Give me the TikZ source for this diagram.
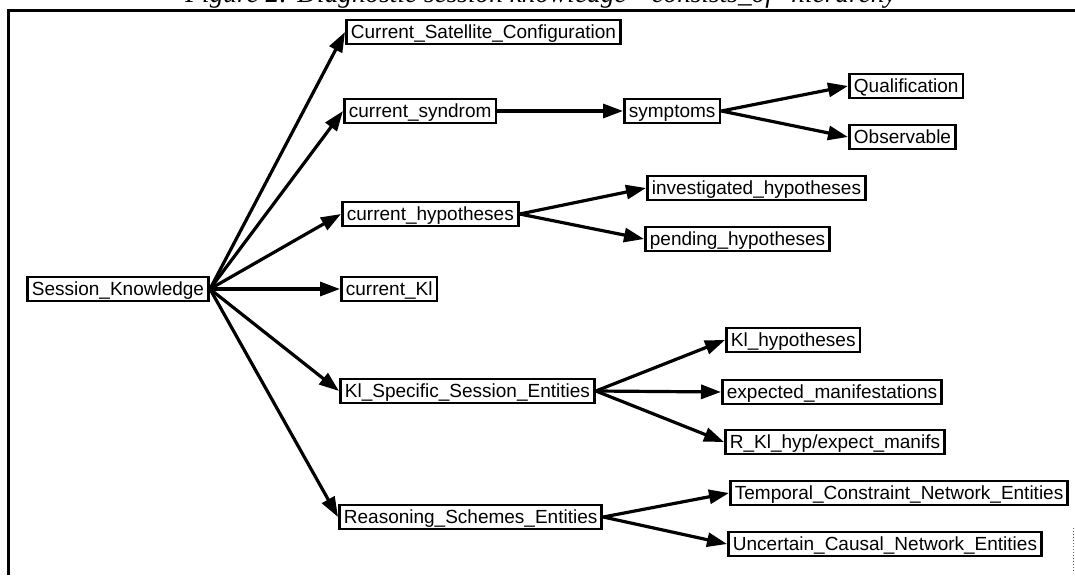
\documentclass[tikz,border=0pt]{standalone}
\usepackage{fontspec}
\setmainfont{Liberation Sans}
\newfontfamily\capfont{Liberation Serif}
\usetikzlibrary{arrows.meta}
\tikzset{
  box/.style={draw, line width=2.8pt, anchor=west, inner xsep=4.5pt, inner ysep=0pt,
    minimum height=24pt, font=\fontsize{19}{21}\selectfont, text depth=0pt},
  conn/.style={line width=3.2pt, -{Triangle[length=20pt,width=14pt]}},
  frame/.style={line width=3pt}
}
\begin{document}
\begin{tikzpicture}[x=1pt,y=-1pt]
\useasboundingbox (0,0) rectangle (1075,575);
% caption (cut off at top)
\node[anchor=base, font=\capfont\itshape\fontsize{27.3}{30}\selectfont, inner sep=0pt] (cap) at (541,3) {Figure 2: Diagnostic session knowledge ``consists\_of'' hierarchy};
% frame
\draw[frame] (8,575) -- (8,11) -- (1075,11);
\draw[line width=1pt, dotted, black!60] (1073,528) -- (1073,573);
% nodes
\node[box] (SK) at (26,289) {Session\_Knowledge};
\node[box] (CSC) at (345,32) {Current\_Satellite\_Configuration};
\node[box] (CS) at (343,111) {current\_syndrom};
\node[box] (SY) at (623,111) {symptoms};
\node[box] (QU) at (848,86) {Qualification};
\node[box] (OB) at (848,137) {Observable};
\node[box] (CH) at (341,214) {current\_hypotheses};
\node[box] (IH) at (646,188) {investigated\_hypotheses};
\node[box] (PH) at (644,239) {pending\_hypotheses};
\node[box] (CK) at (340,289) {current\_Kl};
\node[box] (KS) at (339,391) {Kl\_Specific\_Session\_Entities};
\node[box] (KH) at (725,340) {Kl\_hypotheses};
\node[box] (EM) at (721,392) {expected\_manifestations};
\node[box] (RK) at (724,442) {R\_Kl\_hyp/expect\_manifs};
\node[box] (RS) at (338,517) {Reasoning\_Schemes\_Entities};
\node[box] (TC) at (729,493) {Temporal\_Constraint\_Network\_Entities};
\node[box] (UC) at (727,544) {Uncertain\_Causal\_Network\_Entities};
% connectors
\foreach \t in {CSC,CS,CH,CK,KS,RS} \draw[conn] (SK.east) -- (\t.west);
\draw[conn] (CS.east) -- (SY.west);
\draw[conn] (SY.east) -- (QU.west);
\draw[conn] (SY.east) -- (OB.west);
\draw[conn] (CH.east) -- (IH.west);
\draw[conn] (CH.east) -- (PH.west);
\draw[conn] (KS.east) -- (KH.west);
\draw[conn] (KS.east) -- (EM.west);
\draw[conn] (KS.east) -- (RK.west);
\draw[conn] (RS.east) -- (TC.west);
\draw[conn] (RS.east) -- (UC.west);
\end{tikzpicture}
\end{document}
